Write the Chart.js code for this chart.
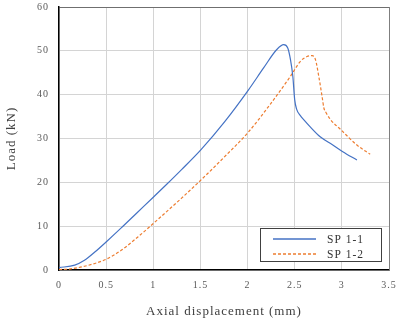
<!DOCTYPE html>
<html><head><meta charset="utf-8">
<script src="https://cdn.jsdelivr.net/npm/chart.js@4/dist/chart.umd.min.js"></script>
<style>html,body{margin:0;padding:0;background:#fff}#wrap{width:398px;height:323px}</style>
</head><body><div id="wrap"><canvas id="c" width="398" height="323"></canvas></div>
<script>
const sp11X = [0, 0.167, 0.27, 0.38, 0.5, 0.66, 0.82, 1.0, 1.14, 1.3, 1.504, 1.76, 2.01, 2.17, 2.31, 2.383, 2.425, 2.455, 2.48, 2.5, 2.52, 2.56, 2.6, 2.667, 2.77, 2.9, 3.01, 3.16];
const sp11Y = [0.55, 1.1, 2.2, 4.1, 6.4, 9.6, 12.9, 16.6, 19.5, 22.9, 27.4, 33.9, 41.1, 46.1, 50.3, 51.4, 50.7, 48.0, 44.2, 38.8, 36.7, 35.2, 34.2, 32.6, 30.4, 28.6, 27.0, 25.1];
const sp12X = [0, 0.1, 0.27, 0.5, 0.66, 0.84, 1.0, 1.12, 1.3, 1.504, 1.745, 2.01, 2.24, 2.455, 2.56, 2.63, 2.685, 2.72, 2.755, 2.79, 2.81, 2.83, 2.88, 2.99, 3.16, 3.30];
const sp12Y = [0.1, 0.2, 0.85, 2.45, 4.5, 7.6, 10.6, 12.9, 16.4, 20.5, 25.6, 31.5, 37.8, 44.2, 47.6, 48.7, 48.9, 48.0, 44.2, 39.6, 36.9, 36.0, 34.3, 32.0, 28.5, 26.4];
const seriesNames = ['SP 1-1', 'SP 1-2'];
const xTicks = [0, 0.5, 1, 1.5, 2, 2.5, 3, 3.5];
const yTicks = [0, 10, 20, 30, 40, 50, 60];

const toPts = (xs, ys) => xs.map((x, i) => ({x, y: ys[i]}));
const FONT = "'Liberation Serif', 'DejaVu Serif', serif";

const spacingPlugin = {
  id: 'spacing',
  beforeDraw(chart) { chart.ctx.letterSpacing = '1px'; },
  beforeDatasetsDraw(chart) { chart.ctx.letterSpacing = '1px'; }
};

const legendPlugin = {
  id: 'boxLegend',
  afterDraw(chart) {
    const ctx = chart.ctx;
    const x0 = 260, y0 = 228, w = 121, h = 33;
    ctx.save();
    ctx.letterSpacing = '1px';
    ctx.fillStyle = '#fff';
    ctx.fillRect(x0, y0, w, h);
    ctx.strokeStyle = '#404040';
    ctx.lineWidth = 1;
    ctx.strokeRect(x0 + 0.5, y0 + 0.5, w, h);
    chart.data.datasets.forEach((ds, i) => {
      const yy = y0 + 11 + i * 15;
      ctx.strokeStyle = ds.borderColor;
      ctx.lineWidth = 1.3;
      ctx.setLineDash(ds.borderDash || []);
      ctx.beginPath();
      ctx.moveTo(273, yy); ctx.lineTo(316, yy); ctx.stroke();
      ctx.setLineDash([]);
      ctx.fillStyle = '#333';
      ctx.font = "11.5px " + FONT;
      ctx.textBaseline = 'middle';
      ctx.fillText(ds.label, 327, yy + 1);
    });
    ctx.restore();
  }
};

new Chart(document.getElementById('c'), {
  type: 'line',
  data: {
    datasets: [
      {label: seriesNames[0], data: toPts(sp11X, sp11Y), borderColor: '#4472C4', borderWidth: 1.2, pointRadius: 0, cubicInterpolationMode: 'monotone', fill: false},
      {label: seriesNames[1], data: toPts(sp12X, sp12Y), borderColor: '#ED7D31', borderWidth: 1.2, borderDash: [3, 2], pointRadius: 0, cubicInterpolationMode: 'monotone', fill: false}
    ]
  },
  options: {
    responsive: false,
    animation: false,
    layout: {padding: 0},
    plugins: {legend: {display: false}, tooltip: {enabled: false}},
    scales: {
      x: {
        type: 'linear', min: 0, max: 3.5,
        afterBuildTicks: s => { s.ticks = xTicks.map(v => ({value: v})); },
        afterFit: s => { s.height = 53; s.paddingLeft = 0; s.paddingRight = 9; },
        grid: {color: '#d4d4d4', lineWidth: 1, drawTicks: false},
        border: {color: '#000', width: 1.5},
        ticks: {color: '#595959', font: {family: FONT, size: 10}, padding: 9, maxRotation: 0, callback: v => String(v)},
        title: {display: true, text: 'Axial displacement (mm)', color: '#404040', font: {family: FONT, size: 13}, padding: {top: 5}}
      },
      y: {
        min: 0, max: 60,
        afterBuildTicks: s => { s.ticks = yTicks.map(v => ({value: v})); },
        afterFit: s => { s.width = 59; s.paddingTop = 7; s.paddingBottom = 0; },
        grid: {color: ctx => ctx.tick && ctx.tick.value === 60 ? '#6f6f6f' : '#d4d4d4', lineWidth: 1, drawTicks: false},
        border: {color: '#000', width: 1.5},
        ticks: {color: '#595959', font: {family: FONT, size: 10}, padding: 10},
        title: {display: true, text: 'Load (kN)', color: '#404040', font: {family: FONT, size: 13}, padding: {bottom: 4}}
      }
    }
  },
  plugins: [spacingPlugin, legendPlugin, {
    id: 'rightBorder',
    afterDraw(chart) {
      const a = chart.chartArea, ctx = chart.ctx;
      ctx.save(); ctx.strokeStyle = '#7f7f7f'; ctx.lineWidth = 1;
      ctx.beginPath(); ctx.moveTo(a.right + 0.5, a.top); ctx.lineTo(a.right + 0.5, a.bottom); ctx.stroke();
      ctx.restore();
    }
  }]
});
</script></body></html>
